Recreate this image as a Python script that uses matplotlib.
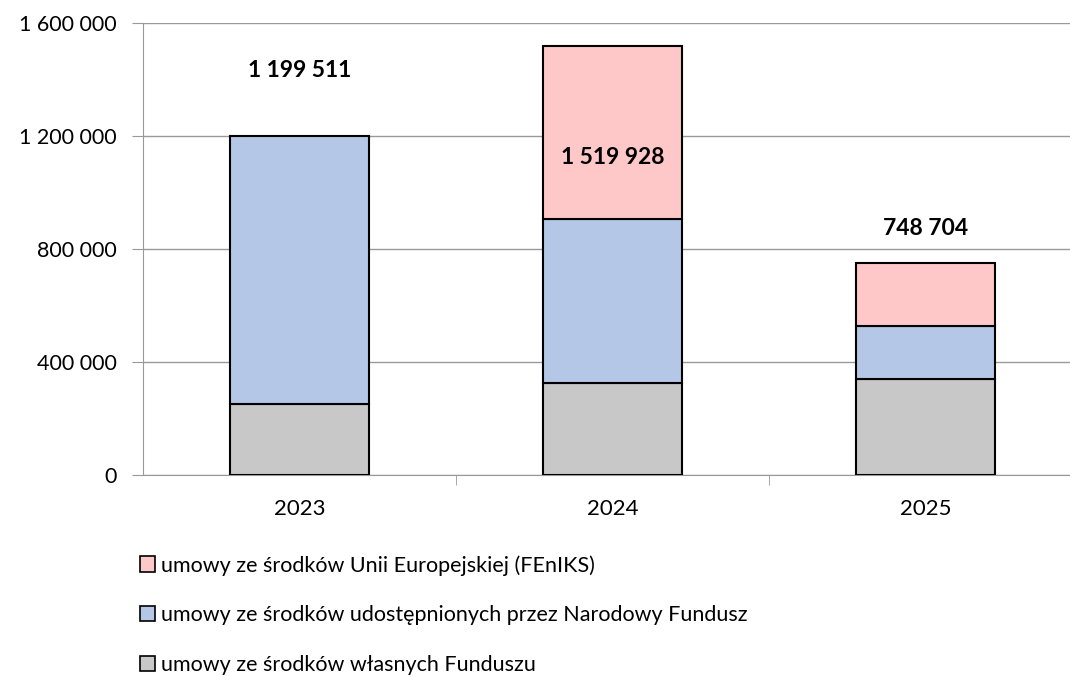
import matplotlib.pyplot as plt
from matplotlib.patches import Patch
from matplotlib.ticker import FuncFormatter
import numpy as np

plt.rcParams['font.family'] = ['Lato', 'DejaVu Sans']

years = ['2023', '2024', '2025']
wlasne = [253000, 324000, 338000]
narodowy = [946511, 582000, 190500]
unia = [0, 613928, 220204]
totals = [1199511, 1519928, 748704]
label_y = [1430000, 1123000, 872000]

legend_labels = ['umowy ze środków Unii Europejskiej (FEnIKS)',
                 'umowy ze środków udostępnionych przez Narodowy Fundusz',
                 'umowy ze środków własnych Funduszu']
colors = ['#FFC8C8', '#B4C7E7', '#C8C8C8']

fig = plt.figure(figsize=(10.7, 6.77), dpi=100)
ax = fig.add_axes([0.1336, 0.2984, 0.8776, 0.6677])

x = np.arange(len(years))
w = 0.444
b1 = np.array(wlasne)
b2 = b1 + np.array(narodowy)
ax.bar(x, wlasne, w, color=colors[2], edgecolor='black', linewidth=1.5, zorder=3)
ax.bar(x, narodowy, w, bottom=b1, color=colors[1], edgecolor='black', linewidth=1.5, zorder=3)
for i in range(len(years)):
    if unia[i] > 0:
        ax.bar(x[i], unia[i], w, bottom=b2[i], color=colors[0], edgecolor='black', linewidth=1.5, zorder=3)

def fmt(v):
    return '{:,}'.format(int(v)).replace(',', ' ')

for i in range(len(years)):
    ax.text(x[i], label_y[i], fmt(totals[i]), ha='center', va='center',
            fontsize=16.5, fontweight='bold', zorder=4)

ax.set_xlim(-0.5, 2.5)
ax.set_ylim(0, 1600000)
ax.set_yticks(np.arange(0, 1600001, 400000))
ax.yaxis.set_major_formatter(FuncFormatter(lambda v, p: fmt(v)))
ax.set_xticks(x)
ax.set_xticklabels(years)
ax.set_xticks([0.5, 1.5], minor=True)
ax.tick_params(axis='x', which='major', length=0, labelsize=16, pad=17)
ax.tick_params(axis='x', which='minor', length=7, color='#999999')
ax.tick_params(axis='y', length=8, color='#999999', labelsize=15.5, pad=11)
ax.grid(axis='y', color='#999999', linewidth=1, zorder=0)
for s in ['top', 'right']:
    ax.spines[s].set_visible(False)
ax.spines['left'].set_color('#999999')
ax.spines['bottom'].set_color('#999999')

handles = [Patch(facecolor=c, edgecolor='black', linewidth=1.2) for c in colors]
fig.legend(handles, legend_labels, loc='upper left', bbox_to_anchor=(0.123, 0.193),
           frameon=False, fontsize=15.5, labelspacing=1.38, handlelength=0.7,
           handleheight=0.7, handletextpad=0.25, borderaxespad=0)

fig.savefig('out.png', dpi=100)
